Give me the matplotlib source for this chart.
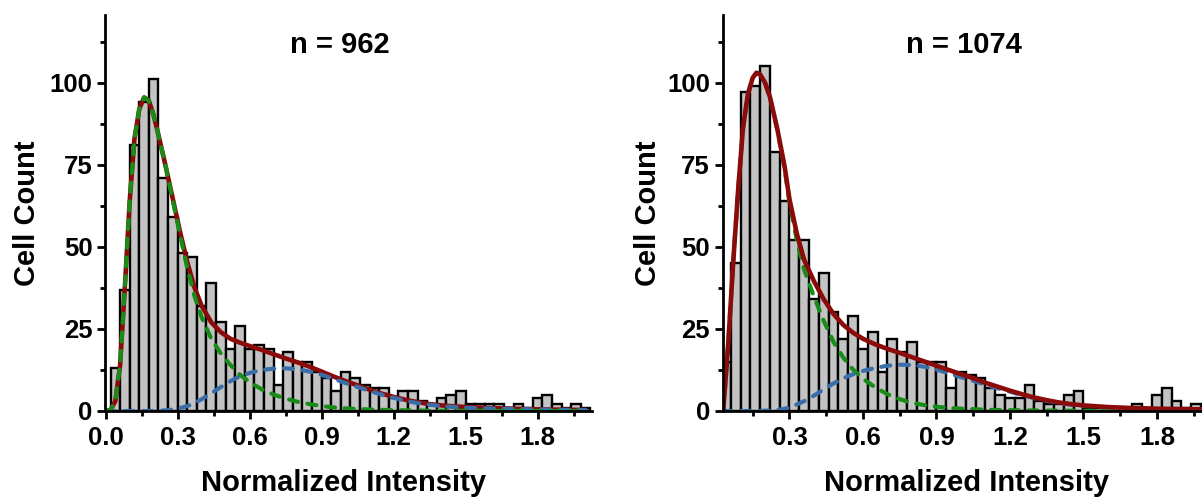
import numpy as np
import matplotlib
matplotlib.use("Agg")
import matplotlib.pyplot as plt
from matplotlib.ticker import FixedLocator, FormatStrFormatter

plt.rcParams['font.family'] = ['Liberation Sans', 'DejaVu Sans']
plt.rcParams['font.weight'] = 'bold'

# ---------------- data ----------------
bin_start = 0.02
bin_width = 0.04

left_counts = [13, 37, 81, 94, 101, 71, 59, 48, 47, 32,
               39, 27, 19, 26, 19, 20, 19, 8, 18, 15,
               15, 12, 10, 6, 12, 10, 8, 7, 7, 4,
               6, 6, 3, 2, 4, 5, 6, 2, 2, 2,
               2, 1, 2, 1, 4, 5, 2, 1, 2, 1]

right_counts = [15, 45, 97, 99, 105, 79, 64, 52, 52, 34,
                42, 30, 22, 29, 19, 24, 12, 22, 18, 21,
                15, 15, 15, 7, 12, 11, 10, 7, 5, 4,
                4, 8, 3, 2, 2, 5, 6, 1, 1, 1,
                1, 1, 2, 1, 5, 7, 3, 1, 2]

# fitted curves (left panel)
left_fit_x = [0.0, 0.02, 0.04, 0.06, 0.08, 0.10, 0.12, 0.14, 0.16, 0.18,
              0.20, 0.22, 0.25, 0.28, 0.31, 0.34, 0.37, 0.40, 0.44, 0.48,
              0.52, 0.56, 0.60, 0.65, 0.70, 0.75, 0.80, 0.85, 0.90, 0.95,
              1.00, 1.05, 1.10, 1.15, 1.20, 1.25, 1.30, 1.35, 1.40, 1.50,
              1.60, 1.70, 1.80, 1.90, 2.00]
left_total = [0, 0.3, 3, 14, 38, 64, 83, 92, 95.5, 94.5,
              90, 84, 74.5, 64.5, 54.5, 45.3, 37.6, 32, 27, 24,
              22, 20.8, 19.8, 18.6, 17.3, 16.0, 14.8, 13.5, 12.0, 10.5,
              9.1, 7.8, 6.5, 5.3, 4.3, 3.4, 2.7, 2.1, 1.7, 1.2,
              0.9, 0.7, 0.5, 0.4, 0.3]
left_comp1 = [0, 0.3, 3, 14, 38, 64, 83, 92, 95.5, 94.5,
              90, 84, 74.5, 64, 53.5, 43.5, 35, 28.5, 22, 17.5,
              14, 11, 8.8, 6.6, 5, 3.8, 2.8, 2.1, 1.5, 1.1,
              0.8, 0.6, 0.45, 0.35, 0.25, 0.2, 0.15, 0.1, 0.08, 0.05,
              0.03, 0.02, 0.01, 0.0, 0.0]
left_comp2 = [0, 0, 0, 0, 0, 0, 0, 0, 0, 0,
              0.05, 0.08, 0.2, 0.45, 0.9, 1.5, 2.4, 3.6, 5.4, 7.3,
              9.1, 10.6, 11.6, 12.5, 12.9, 13.0, 12.7, 12.0, 11.0, 9.8,
              8.5, 7.3, 6.1, 5.0, 4.0, 3.1, 2.4, 1.9, 1.5, 1.0,
              0.75, 0.6, 0.45, 0.35, 0.3]

# fitted curves (right panel)
right_fit_x = [0.025, 0.03, 0.05, 0.07, 0.09, 0.11, 0.13, 0.15, 0.165, 0.18,
               0.20, 0.22, 0.25, 0.28, 0.30, 0.33, 0.36, 0.40, 0.44, 0.48,
               0.52, 0.56, 0.60, 0.65, 0.70, 0.75, 0.80, 0.85, 0.90, 0.95,
               1.00, 1.05, 1.10, 1.15, 1.20, 1.25, 1.30, 1.35, 1.40, 1.45,
               1.50, 1.60, 1.70, 1.80, 1.90, 1.985]
right_total = [0, 0.5, 20.6, 45, 67, 86, 96.5, 101.5, 103, 102.5,
               100, 95.7, 86, 74.5, 64.5, 54, 46, 39.5, 34, 29.5,
               26.2, 23.8, 22, 20.3, 18.9, 17.7, 16.4, 15.1, 13.8, 12.5,
               11.2, 10.0, 8.6, 7.4, 6.2, 5.1, 4.1, 3.3, 2.6, 2.1,
               1.7, 1.2, 0.9, 0.7, 0.6, 0.5]
right_comp1 = [0, 0.5, 20.6, 45, 67, 86, 96.5, 101.5, 103, 102.5,
               99.9, 95.5, 85.7, 73.8, 63.4, 52, 43, 34.8, 27.4, 21,
               16.2, 12.6, 9.8, 7.2, 5.1, 3.6, 2.5, 1.8, 1.3, 0.95,
               0.7, 0.55, 0.4, 0.3, 0.25, 0.2, 0.15, 0.12, 0.1, 0.08,
               0.06, 0.05, 0.04, 0.03, 0.02, 0.02]
right_comp2 = [0, 0, 0, 0, 0, 0, 0, 0, 0, 0,
               0.1, 0.15, 0.3, 0.7, 1.1, 2.0, 3.0, 4.7, 6.6, 8.4,
               10.0, 11.2, 12.2, 13.1, 13.8, 14.1, 14.0, 13.5, 12.6, 11.5,
               10.3, 9.2, 8.0, 6.9, 5.9, 4.8, 3.9, 3.1, 2.4, 1.9,
               1.6, 1.1, 0.8, 0.6, 0.5, 0.45]

titles = ["n = 962", "n = 1074"]
x_label = "Normalized Intensity"
y_label = "Cell Count"

# ---------------- style ----------------
BAR_FACE = '#c3c3c3'
RED = '#8b0a0a'
GREEN = '#178c17'
BLUE = '#3a6ea8'

W, H = 1202, 497
fig = plt.figure(figsize=(W / 100, H / 100), dpi=100)

def px_rect(x0, x1, ytop, ybot):
    return [x0 / W, 1 - ybot / H, (x1 - x0) / W, (ybot - ytop) / H]

axL = fig.add_axes(px_rect(105, 592, 15, 411))
axR = fig.add_axes(px_rect(722.5, 1202, 15, 411))

def style_axis(ax, xlim, xmajor, xminor):
    ax.set_xlim(*xlim)
    ax.set_ylim(0, 120.6)
    for s in ['top', 'right']:
        ax.spines[s].set_visible(False)
    for s in ['left', 'bottom']:
        ax.spines[s].set_linewidth(2.0)
        ax.spines[s].set_zorder(5)
    ax.xaxis.set_major_locator(FixedLocator(xmajor))
    ax.xaxis.set_minor_locator(FixedLocator(xminor))
    ax.xaxis.set_major_formatter(FormatStrFormatter('%.1f'))
    ax.yaxis.set_major_locator(FixedLocator([0, 25, 50, 75, 100]))
    ax.yaxis.set_minor_locator(FixedLocator([12.5, 37.5, 62.5, 87.5, 112.5]))
    ax.tick_params(which='major', direction='out', length=6, width=2,
                   labelsize=18.5)
    ax.tick_params(which='minor', direction='out', length=3.5, width=2)
    ax.tick_params(axis='x', which='major', pad=5)
    ax.tick_params(axis='y', which='major', pad=3)
    for lab in ax.get_xticklabels() + ax.get_yticklabels():
        lab.set_fontweight('bold')

def draw_bars(ax, counts):
    centers = bin_start + bin_width * (np.arange(len(counts)) + 0.5)
    ax.bar(centers, counts, width=bin_width, color=BAR_FACE,
           edgecolor='black', linewidth=1.7, zorder=1)

dash = dict(linestyle=(0, (2.2, 2.3)), dash_capstyle='round', linewidth=3.0)

# left panel: red below dashed components
draw_bars(axL, left_counts)
axL.plot(left_fit_x, left_total, color=RED, linewidth=3.3, zorder=2,
         solid_capstyle='round')
axL.plot(left_fit_x, left_comp2, color=BLUE, zorder=3, **dash)
axL.plot(left_fit_x, left_comp1, color=GREEN, zorder=4, **dash)
style_axis(axL, (-0.003, 2.027),
           [0.0, 0.3, 0.6, 0.9, 1.2, 1.5, 1.8],
           [0.15, 0.45, 0.75, 1.05, 1.35, 1.65, 1.95])
axL.text(0.975, 109, titles[0], ha='center', va='baseline',
         fontsize=21, fontweight='bold')

# right panel: red on top
draw_bars(axR, right_counts)
axR.plot(right_fit_x, right_comp1, color=GREEN, zorder=2, **dash)
axR.plot(right_fit_x, right_comp2, color=BLUE, zorder=3, **dash)
axR.plot(right_fit_x, right_total, color=RED, linewidth=3.3, zorder=4,
         solid_capstyle='round')
style_axis(axR, (0.0265, 1.984),
           [0.3, 0.6, 0.9, 1.2, 1.5, 1.8],
           [0.15, 0.45, 0.75, 1.05, 1.35, 1.65, 1.95])
axR.text(1.011, 109, titles[1], ha='center', va='baseline',
         fontsize=21, fontweight='bold')

# axis labels
for xc in (344, 967):
    fig.text(xc / W, 1 - 491 / H, x_label, ha='center', va='baseline',
             fontsize=21, fontweight='bold')
for xb in (35, 656):
    fig.text(xb / W, 1 - 213 / H, y_label, ha='center', va='baseline',
             rotation=90, rotation_mode='anchor',
             fontsize=21, fontweight='bold')

fig.savefig('out.png', dpi=100)
